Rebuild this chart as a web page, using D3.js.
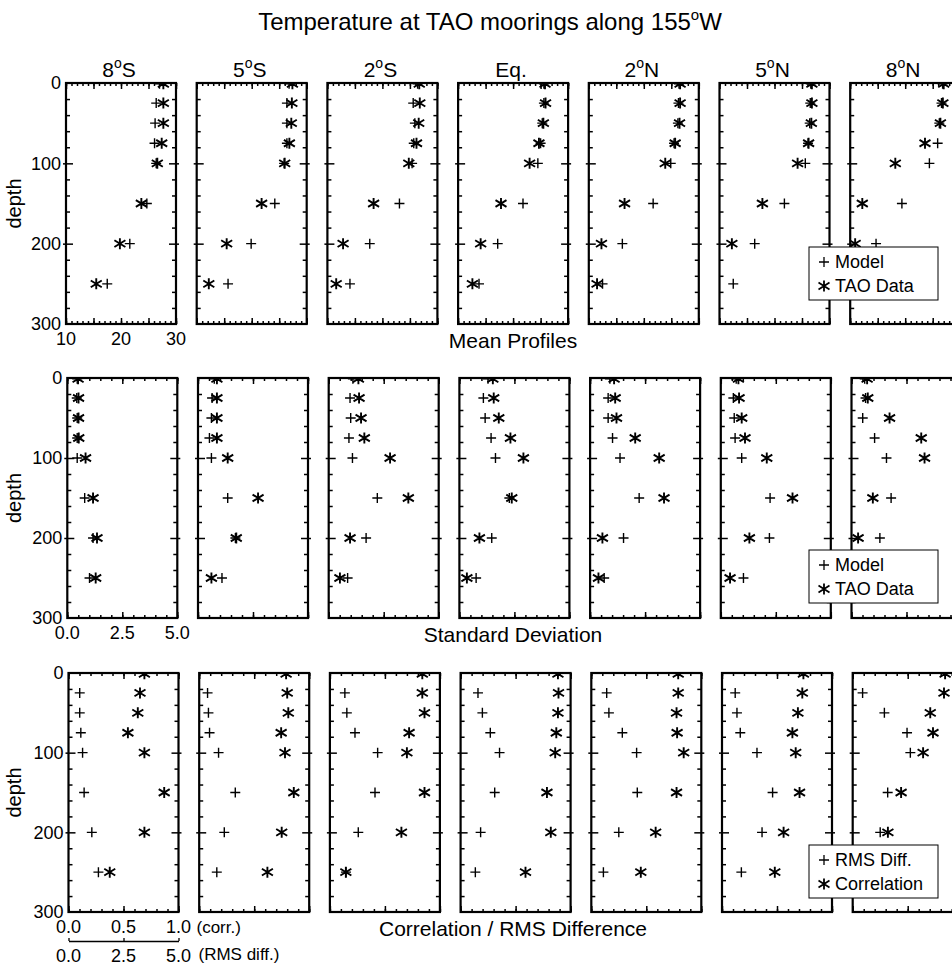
<!DOCTYPE html>
<html>
<head>
<meta charset="utf-8">
<script src="https://cdn.jsdelivr.net/npm/d3@7"></script>
<style>
  html, body { margin: 0; padding: 0; background: #fff; overflow: hidden; }
  svg { display: block; font-family: "Liberation Sans", Arial, Helvetica, sans-serif; }
</style>
</head>
<body>
<svg id="chart" width="952" height="968"></svg>
<script>
// TAO mooring stations along 155W, south to north
const stationLabels = ['8°S', '5°S', '2°S', 'Eq.', '2°N', '5°N', '8°N'];
const depths = [1, 25, 50, 75, 100, 150, 200, 250];

// Mean profiles (deg C), one array per station, by depth
const meanModel = [
  [27.0, 26.4, 26.2, 26.1, 26.4, 24.7, 21.6, 17.5],
  [26.8, 26.4, 26.4, 26.4, 25.9, 24.2, 19.9, 15.7],
  [26.4, 25.6, 25.9, 25.7, 25.4, 23.1, 17.7, 14.1],
  [25.6, 25.6, 25.3, 25.0, 24.5, 21.8, 17.2, 13.8],
  [26.4, 26.3, 26.2, 25.5, 24.9, 21.7, 16.1, 12.5],
  [26.6, 26.5, 26.4, 26.1, 25.6, 21.8, 16.4, 12.5],
  [26.8, 26.6, 26.2, 25.9, 24.4, 19.4, 14.7, null]
];
const meanTao = [
  [27.7, 27.7, 27.7, 27.4, 26.6, 23.7, 19.8, 15.5],
  [27.4, 27.3, 27.2, 26.85, 26.0, 21.8, 15.45, 12.2],
  [26.7, 26.8, 26.6, 26.2, 24.8, 18.4, 12.85, 11.6],
  [25.8, 25.9, 25.5, 24.7, 23.0, 17.8, 14.1, 12.6],
  [26.6, 26.6, 26.5, 25.7, 23.9, 16.5, 12.3, 11.5],
  [26.8, 26.8, 26.7, 26.2, 24.2, 17.8, 12.25, null],
  [27.0, 26.85, 26.4, 23.6, 18.2, 12.2, 10.9, null]
];

// Standard deviation (deg C)
const stdModel = [
  [0.45, 0.43, 0.45, 0.45, 0.45, 0.79, 1.17, 1.01],
  [0.74, 0.64, 0.61, 0.52, 0.61, 1.35, 1.70, 1.09],
  [1.10, 0.97, 1.00, 0.92, 1.08, 2.21, 1.70, 0.86],
  [1.30, 1.09, 1.17, 1.44, 1.64, 2.27, 1.47, 0.76],
  [0.90, 0.82, 0.82, 1.02, 1.36, 2.23, 1.52, 0.64],
  [0.70, 0.57, 0.61, 0.65, 0.95, 2.24, 2.21, 1.03],
  [0.60, 0.64, 0.51, 1.05, 1.59, 1.80, 1.29, null]
];
const stdTao = [
  [0.49, 0.51, 0.51, 0.52, 0.83, 1.17, 1.35, 1.29],
  [0.86, 0.86, 0.86, 0.86, 1.35, 2.73, 1.74, 0.61],
  [1.35, 1.38, 1.47, 1.62, 2.79, 3.62, 0.97, 0.51],
  [1.52, 1.56, 1.79, 2.32, 2.91, 2.38, 0.91, 0.34],
  [1.09, 1.14, 1.20, 2.05, 3.14, 3.36, 0.56, 0.38],
  [0.80, 0.83, 0.95, 1.10, 2.09, 3.26, 1.30, 0.42],
  [0.71, 0.74, 1.73, 3.17, 3.32, 0.97, 0.30, null]
];

// RMS difference (deg C) and correlation, model vs TAO
const rmsDiff = [
  [null, 0.51, 0.51, 0.56, 0.64, 0.71, 1.06, 1.36],
  [null, 0.38, 0.42, 0.47, 0.88, 1.64, 1.14, 0.80],
  [null, 0.68, 0.77, 1.14, 2.17, 2.05, 1.29, 0.73],
  [null, 0.79, 0.99, 1.35, 1.77, 1.55, 0.91, 0.67],
  [null, 0.70, 0.80, 1.41, 2.06, 2.09, 1.25, 0.55],
  [null, 0.60, 0.68, 0.83, 1.59, 2.30, 1.82, 0.88],
  [null, 0.45, 1.44, 2.47, 2.62, 1.59, 1.25, null]
];
const correlation = [
  [0.69, 0.65, 0.63, 0.54, 0.69, 0.87, 0.69, 0.375],
  [0.79, 0.80, 0.81, 0.745, 0.78, 0.86, 0.75, 0.62],
  [0.84, 0.84, 0.86, 0.72, 0.70, 0.86, 0.65, 0.145],
  [0.885, 0.89, 0.885, 0.87, 0.86, 0.785, 0.82, 0.59],
  [0.79, 0.79, 0.775, 0.78, 0.84, 0.775, 0.585, 0.45],
  [0.74, 0.73, 0.69, 0.64, 0.67, 0.705, 0.56, 0.48],
  [0.84, 0.83, 0.705, 0.73, 0.64, 0.44, 0.32, null]
];

// tick labels
const depthTicks = [0, 100, 200, 300];
const meanTicks = [10, 20, 30];
const stdTicks = [0, 2.5, 5];
const corrTicks = [0, 0.5, 1];
const rmsTicks = [0, 2.5, 5];

const rows = [
  { title: 'Mean Profiles', plus: meanModel, star: meanTao,
    plusDomain: [10, 30], starDomain: [10, 30],
    major: d3.range(10, 31, 5), minor: d3.range(10, 31, 1),
    labels: meanTicks, fmt: d3.format('d'), legend: ['Model', 'TAO Data'] },
  { title: 'Standard Deviation', plus: stdModel, star: stdTao,
    plusDomain: [0, 5], starDomain: [0, 5],
    major: stdTicks, minor: d3.range(0, 5.01, 0.5),
    labels: stdTicks, fmt: d3.format('.1f'), legend: ['Model', 'TAO Data'] },
  { title: 'Correlation / RMS Difference', plus: rmsDiff, star: correlation,
    plusDomain: [0, 5], starDomain: [0, 1],
    major: corrTicks, minor: d3.range(0, 1.001, 0.1),
    labels: corrTicks, fmt: d3.format('.1f'), legend: ['RMS Diff.', 'Correlation'] }
];

const svg = d3.select('#chart');
const defs = svg.append('defs');

// layout
const panelX0 = 66, panelStep = 130.7, panelW = 110;
const rowTop = [83, 378, 673], rowH = [241, 240, 239];
const rowShift = [0, 1.3, 2.5]; // the scan is slightly skewed
const legendTop = [247, 550, 845], legendX = 809, legendW = 129, legendH = 53;
const centerX = 513;

const plusPath = 'M-5,0H5M0,-5V5';
const starPath = 'M0,-5.5V5.5M-5.5,-3.4L5.5,3.4M-5.5,3.4L5.5,-3.4';

// text with a raised small "o" in place of the degree sign
function degText(sel, str, supSize, shift) {
  const parts = str.split('°');
  sel.append('tspan').text(parts[0]);
  if (parts.length > 1) {
    sel.append('tspan').attr('font-size', supSize).attr('dy', shift).text('o');
    sel.append('tspan').attr('dy', -shift).text(parts[1]);
  }
}

function ticks(g, axis, tx, ty, vals, size, outward, attr) {
  const a = g.append('g')
    .attr('transform', `translate(${tx},${ty})`)
    .call(axis.tickValues(vals).tickSize(size).tickSizeOuter(0).tickFormat(''));
  a.select('.domain').remove();
  a.selectAll('.tick line').attr('stroke', '#000').attr('stroke-width', 1.5);
  if (outward) a.selectAll('.tick line').attr(attr, outward);
}

// title
svg.append('text')
  .attr('x', 490).attr('y', 30)
  .attr('text-anchor', 'middle')
  .attr('font-size', 24)
  .call(degText, 'Temperature at TAO moorings along 155°W', 15, -10);

rows.forEach((row, r) => {
  const top = rowTop[r], bottom = rowTop[r] + rowH[r];
  const y = d3.scaleLinear().domain([0, 300]).range([top, bottom]);

  stationLabels.forEach((name, i) => {
    const left = panelX0 + i * panelStep + rowShift[r];
    const right = left + panelW;
    const xPlus = d3.scaleLinear().domain(row.plusDomain).range([left, right]);
    const xStar = d3.scaleLinear().domain(row.starDomain).range([left, right]);
    const g = svg.append('g');

    // depth ticks, both sides, pointing inward
    const minorDepth = d3.range(20, 300, 20).filter(v => v % 100 !== 0);
    ticks(g, d3.axisLeft(y), left, 0, minorDepth, -4);
    ticks(g, d3.axisLeft(y), left, 0, [100, 200], -7, -3, 'x1');
    ticks(g, d3.axisRight(y), right, 0, minorDepth, -4);
    ticks(g, d3.axisRight(y), right, 0, [100, 200], -7, 3, 'x1');

    // x ticks on top and bottom
    ticks(g, d3.axisTop(xStar), 0, top, row.minor, -3);
    ticks(g, d3.axisTop(xStar), 0, top, row.major, -6);
    ticks(g, d3.axisBottom(xStar), 0, bottom, row.minor, -3);
    ticks(g, d3.axisBottom(xStar), 0, bottom, row.major, -6);

    // marks, clipped to the plot area
    const clipId = `clip-${r}-${i}`;
    defs.append('clipPath').attr('id', clipId)
      .append('rect').attr('x', left).attr('y', top).attr('width', panelW).attr('height', rowH[r]);
    const marks = g.append('g').attr('clip-path', `url(#${clipId})`);

    const plusData = depths.map((d, k) => [d, row.plus[i][k]]).filter(e => e[1] != null);
    const starData = depths.map((d, k) => [d, row.star[i][k]]).filter(e => e[1] != null);

    marks.selectAll('.star').data(starData).join('path')
      .attr('class', 'star')
      .attr('transform', d => `translate(${xStar(d[1])},${y(d[0])})`)
      .attr('d', starPath)
      .attr('fill', 'none').attr('stroke', '#000').attr('stroke-width', 1.9);

    marks.selectAll('.plus').data(plusData).join('path')
      .attr('class', 'plus')
      .attr('transform', d => `translate(${xPlus(d[1])},${y(d[0])})`)
      .attr('d', plusPath)
      .attr('fill', 'none').attr('stroke', '#000').attr('stroke-width', 1.4);

    // frame
    g.append('rect')
      .attr('x', left).attr('y', top)
      .attr('width', panelW).attr('height', rowH[r])
      .attr('fill', 'none').attr('stroke', '#000').attr('stroke-width', 2.2);

    if (r === 0) {
      svg.append('text')
        .attr('x', left + panelW / 2 - 2).attr('y', 77)
        .attr('text-anchor', 'middle')
        .attr('font-size', 21)
        .call(degText, name, 14, -9);
    }

    if (i === 0) {
      // depth labels
      g.selectAll('.ylab').data(depthTicks).join('text')
        .attr('class', 'ylab')
        .attr('x', left - 5).attr('y', d => y(d))
        .attr('dy', '0.36em')
        .attr('text-anchor', 'end')
        .attr('font-size', 18)
        .text(d => d);

      g.append('text')
        .attr('transform', `translate(21,${(top + bottom) / 2}) rotate(-90)`)
        .attr('text-anchor', 'middle')
        .attr('font-size', 20)
        .text('depth');

      g.selectAll('.xlab').data(row.labels).join('text')
        .attr('class', 'xlab')
        .attr('x', d => xStar(d)).attr('y', bottom + 21)
        .attr('text-anchor', 'middle')
        .attr('font-size', 18)
        .text(d => row.fmt(d));

      if (r === 2) {
        g.append('text')
          .attr('x', right + 18).attr('y', bottom + 21)
          .attr('font-size', 17)
          .text('(corr.)');

        // second scale for the RMS difference
        const rmsAxis = g.append('g')
          .attr('transform', `translate(0,${bottom + 29})`)
          .call(d3.axisTop(xPlus).tickValues(rmsTicks).tickSize(3).tickSizeOuter(0).tickFormat(''));
        rmsAxis.selectAll('path, line').attr('stroke', '#000').attr('stroke-width', 1.3);

        g.selectAll('.rmslab').data(rmsTicks).join('text')
          .attr('class', 'rmslab')
          .attr('x', d => xPlus(d)).attr('y', bottom + 50)
          .attr('text-anchor', 'middle')
          .attr('font-size', 18)
          .text(d => d3.format('.1f')(d));

        g.append('text')
          .attr('x', right + 20).attr('y', bottom + 48)
          .attr('font-size', 17)
          .text('(RMS diff.)');
      }
    }
  });

  // row caption
  svg.append('text')
    .attr('x', centerX).attr('y', bottom + 24)
    .attr('text-anchor', 'middle')
    .attr('font-size', 21)
    .text(row.title);
});

// legends go on top of the panels
rows.forEach((row, r) => {
  const lx = legendX, ly = legendTop[r];
  const lg = svg.append('g');
  lg.append('rect')
    .attr('x', lx).attr('y', ly).attr('width', legendW).attr('height', legendH)
    .attr('fill', '#fff').attr('stroke', '#000').attr('stroke-width', 1);
  [plusPath, starPath].forEach((p, k) => {
    lg.append('path')
      .attr('transform', `translate(${lx + 15},${ly + 15 + k * 24})`)
      .attr('d', p)
      .attr('fill', 'none').attr('stroke', '#000').attr('stroke-width', k ? 1.8 : 1.3);
    lg.append('text')
      .attr('x', lx + 26).attr('y', ly + 21 + k * 24)
      .attr('font-size', 18)
      .text(row.legend[k]);
  });
});
</script>
</body>
</html>
